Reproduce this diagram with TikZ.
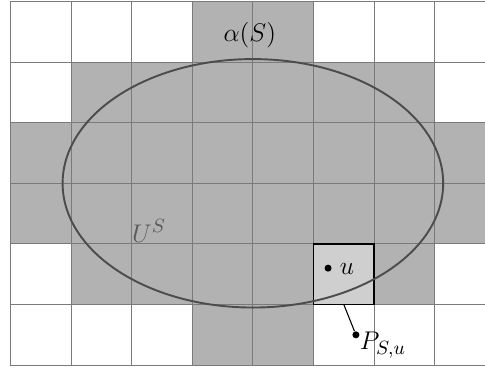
\documentclass[tikz,border=0pt]{standalone}
\begin{document}
\begin{tikzpicture}[x=1cm,y=1cm,
  font=\fontsize{13}{15}\selectfont,
  shade/.style={fill=black!30},
  gridline/.style={draw=black!52, line width=0.5pt},
  selcell/.style={draw=black, fill=black!19, line width=0.6pt, minimum size=1cm, inner sep=0pt, outer sep=0pt},
  region/.style={draw=black!70, line width=0.9pt},
  dotmark/.style={circle, fill=black, inner sep=0pt, minimum size=3.3pt},
  lab/.style={inner sep=0pt}]
\useasboundingbox (-0.173,-0.064) rectangle (7.830,6.025);
\clip (-0.173,-0.064) rectangle (7.830,6.025);
\fill[shade] (3,5) rectangle (5,6);
\fill[shade] (1,4) rectangle (7,5);
\fill[shade] (0,2) rectangle (8,4);
\fill[shade] (1,1) rectangle (7,2);
\fill[shade] (3,0) rectangle (5,1);
\draw[gridline] (0,0) grid (8,6);
\node[selcell] (cell) at (5.5,1.5) {};
\draw[region] (4,3) ellipse [x radius=3.14, y radius=2.05];
\node[lab, anchor=base] (alpha) at (3.95,5.34) {$\alpha(S)$};
\node[lab, anchor=base west, text=black!65] (US) at (2.0,2.03) {$U^S$};
\node[dotmark] (udot) at (5.24,1.60) {};
\node[lab, anchor=base west] (ulab) at (5.43,1.50) {$u$};
\node[dotmark] (pdot) at (5.70,0.50) {};
\node[lab, anchor=base west] (plab) at (5.76,0.25) {$P_{S,u}$};
\draw[black, line width=0.5pt] (cell.south) -- (pdot);
\end{tikzpicture}
\end{document}
